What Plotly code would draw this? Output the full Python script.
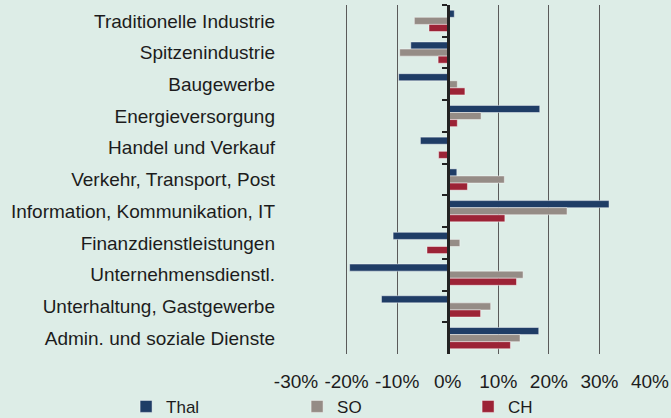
import plotly.graph_objects as go

categories = [
    "Traditionelle Industrie",
    "Spitzenindustrie",
    "Baugewerbe",
    "Energieversorgung",
    "Handel und Verkauf",
    "Verkehr, Transport, Post",
    "Information, Kommunikation, IT",
    "Finanzdienstleistungen",
    "Unternehmensdienstl.",
    "Unterhaltung, Gastgewerbe",
    "Admin. und soziale Dienste",
]
thal = [1.3, -7.3, -9.7, 18.2, -5.4, 1.8, 31.9, -10.8, -19.4, -13.1, 18.0]
so = [-6.6, -9.5, 1.9, 6.6, 0.0, 11.2, 23.6, 2.4, 14.9, 8.5, 14.3]
ch = [-3.7, -1.9, 3.4, 1.9, -1.8, 3.9, 11.3, -4.1, 13.6, 6.5, 12.4]
x_ticks = [-30, -20, -10, 0, 10, 20, 30, 40]
x_tick_labels = ["-30%", "-20%", "-10%", "0%", "10%", "20%", "30%", "40%"]

BG = "#ddede7"
FONT = "Liberation Sans, Arial, sans-serif"
TXT = "#1c1c1c"

fig = go.Figure()
series = [("Thal", thal, "#1f3d66"), ("SO", so, "#958c86"), ("CH", ch, "#9c2336")]
for name, vals, col in series:
    fig.add_trace(go.Bar(
        name=name, x=vals, y=categories, orientation="h",
        marker=dict(color=col, line=dict(color="rgba(255,255,255,0.45)", width=1)),
    ))

# invisible helper trace so the label axis (left side) gets its categories
fig.add_trace(go.Scatter(
    x=thal, y=categories, yaxis="y2", mode="markers",
    marker=dict(opacity=0), showlegend=False, hoverinfo="skip",
))

fig.update_layout(
    width=671, height=418,
    margin=dict(l=296, r=21, t=5, b=64, autoexpand=False),
    paper_bgcolor=BG, plot_bgcolor=BG,
    font=dict(family=FONT, color=TXT, size=17),
    barmode="group", bargap=0.33, bargroupgap=0,
    showlegend=True,
    legend=dict(
        orientation="h", x=-0.48, xanchor="left", y=-0.203, yanchor="bottom",
        bgcolor="rgba(0,0,0,0)", entrywidth=126, entrywidthmode="pixels",
        font=dict(size=17, family=FONT, color=TXT), traceorder="normal",
    ),
    xaxis=dict(
        range=[-30, 40], tickvals=x_ticks, ticktext=x_tick_labels,
        showgrid=True, gridcolor="#5a5a5a", gridwidth=1,
        zeroline=False, showline=False, ticks="", ticklabelstandoff=14,
        tickfont=dict(size=19, family=FONT, color=TXT),
    ),
    yaxis=dict(
        type="category", categoryorder="array", categoryarray=categories,
        range=[10.5, -0.5], anchor="free", position=30 / 70,
        showticklabels=False, showgrid=False, zeroline=False,
        showline=True, linecolor="#222222", linewidth=3,
        ticks="outside", ticklen=5, tickwidth=2, tickcolor="#222222",
        tickson="boundaries",
    ),
    yaxis2=dict(
        type="category", categoryorder="array", categoryarray=categories,
        range=[10.5, -0.5], overlaying="y", anchor="x", side="left",
        showticklabels=True, showgrid=False, zeroline=False, showline=False,
        ticks="", ticklabelstandoff=20,
        tickfont=dict(size=19, family=FONT, color=TXT),
    ),
)

fig.write_html(
    "out.html",
    config={"displayModeBar": False},
    post_script="document.body.style.margin='0';document.body.style.overflow='hidden';",
)
